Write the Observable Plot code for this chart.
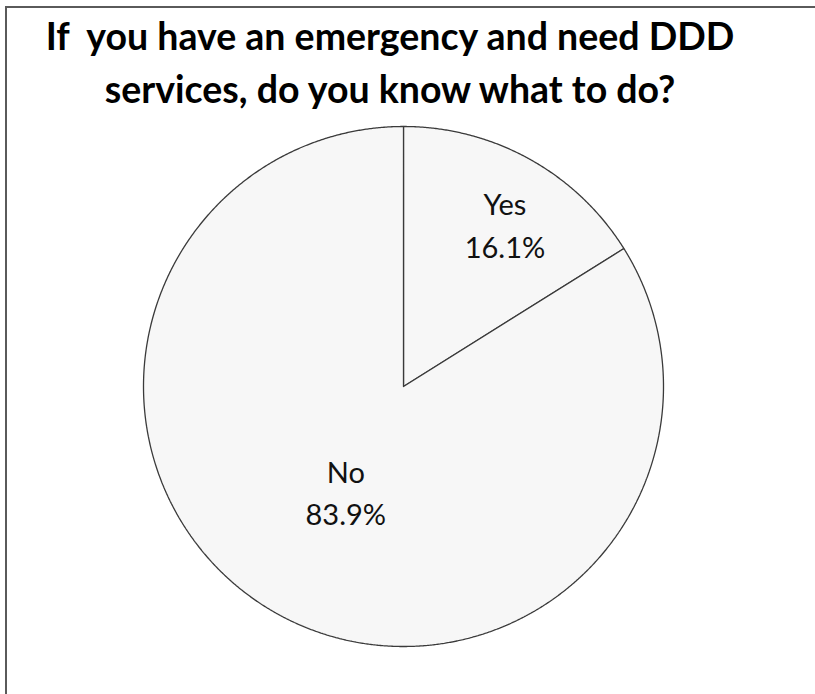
<!DOCTYPE html>
<html>
<head>
<meta charset="utf-8">
<script src="https://cdn.jsdelivr.net/npm/d3@7"></script>
<script src="https://cdn.jsdelivr.net/npm/@observablehq/plot@0.6"></script>
<style>
  html, body { margin: 0; padding: 0; background: #ffffff; }
  #page { position: relative; width: 815px; height: 694px; overflow: hidden; background: #fff; }
  #frame { position: absolute; left: 5px; top: 6px; width: 900px; height: 900px;
           border-top: 2px solid #5a5a5a; border-left: 2px solid #5a5a5a; box-sizing: border-box; }
  #title { position: absolute; left: 0; top: 9px; width: 780px; text-align: center;
           font-family: Lato, "Open Sans", sans-serif; font-weight: bold; font-size: 37.5px;
           line-height: 53px; color: #000; white-space: pre; }
  #chart { position: absolute; left: 0; top: 120px; }
</style>
</head>
<body>
<div id="page">
  <div id="frame"></div>
  <div id="title">If  you have an emergency and need DDD
services, do you know what to do?</div>
  <div id="chart"></div>
</div>
<script>
// ---- data ----
const categories = ["Yes", "No"];
const percentValues = [16.1, 83.9];
const percentLabels = ["16.1%", "83.9%"];

// ---- build slices ----
const data = categories.map((c, i) => ({label: c, value: percentValues[i], pct: percentLabels[i]}));
const arcs = d3.pie().sort(null).value(d => d.value)(data);

const outline = [];
for (const a of arcs) {
  const lab = a.data.label;
  outline.push({label: lab, x: 0, y: 0});
  const n = Math.max(2, Math.ceil((a.endAngle - a.startAngle) / 0.005));
  for (let k = 0; k <= n; k++) {
    const t = a.startAngle + (a.endAngle - a.startAngle) * k / n;
    outline.push({label: lab, x: Math.sin(t), y: Math.cos(t)});
  }
  outline.push({label: lab, x: 0, y: 0});
}

const labelRadius = {Yes: 0.74, No: 0.458};
const labelAngleShift = {Yes: 0.05, No: 0};
const textRows = arcs.map(a => {
  const mid = (a.startAngle + a.endAngle) / 2 + labelAngleShift[a.data.label];
  const r = labelRadius[a.data.label];
  return {text: a.data.label + "\n" + a.data.pct, x: r * Math.sin(mid), y: r * Math.cos(mid)};
});

const cx = 403, cy = 266, R = 260;
const chart = Plot.plot({
  width: 815,
  height: 574,
  margin: 0,
  style: {background: "transparent", overflow: "visible"},
  x: {domain: [-1, 1], range: [cx - R, cx + R], axis: null},
  y: {domain: [-1, 1], range: [cy + R, cy - R], axis: null},
  marks: [
    Plot.line(outline, {x: "x", y: "y", z: "label", fill: "#f7f7f7", stroke: "#3a3a3a",
                        strokeWidth: 1.3, strokeLinejoin: "miter"}),
    Plot.text(textRows, {x: "x", y: "y", text: "text", fontSize: 29, lineHeight: 1.45,
                         fontFamily: "Lato, 'Open Sans', sans-serif", fill: "#111"})
  ]
});
document.getElementById("chart").appendChild(chart);
</script>
</body>
</html>
